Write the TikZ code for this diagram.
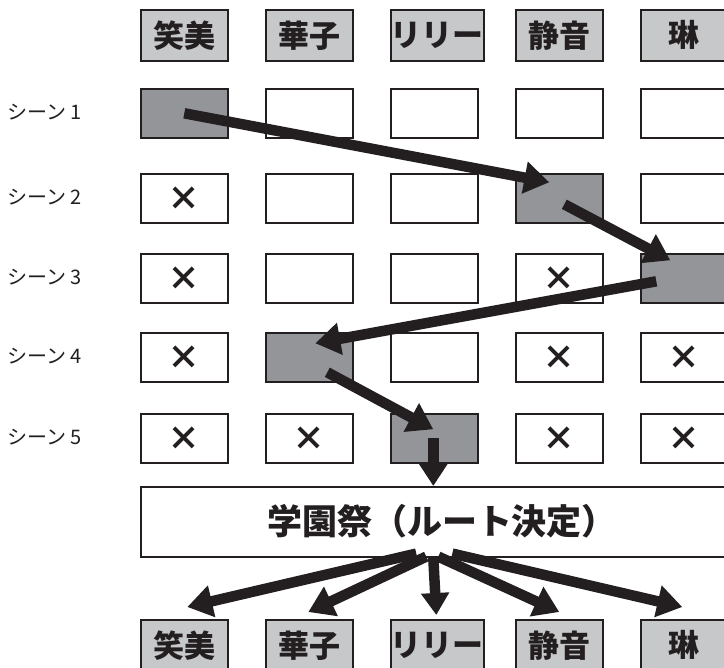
\documentclass[tikz,border=0pt]{standalone}
\usepackage{fontspec}
\newfontfamily\jp{Noto Sans CJK JP}
\usetikzlibrary{arrows.meta,calc}
\definecolor{ink}{HTML}{231F20}
\definecolor{headgray}{HTML}{C7C8CA}
\definecolor{ongray}{HTML}{939598}
\begin{document}
\begin{tikzpicture}[x=1pt,y=-1pt,
  cell/.style={draw=ink,line width=1.6pt,minimum width=87pt,minimum height=49pt,inner sep=0pt,fill=white,anchor=north west,text=ink},
  oncell/.style={cell,fill=ongray},
  xcell/.style={cell,font=\jp\bfseries\fontsize{33}{33}\selectfont},
  head/.style={cell,minimum height=51pt,fill=headgray,font=\jp\bfseries\fontsize{31}{31}\selectfont},
  lbl/.style={font=\jp\fontsize{20}{20}\selectfont,anchor=west,inner sep=0pt,text=ink},
  fat/.style={-{Triangle[length=25pt,width=31pt]},line width=10.5pt,draw=ink}
]
\useasboundingbox (0,0) rectangle (724,668);
% top headers
\node[head] (h1) at (140,9) {笑美};
\node[head] (h2) at (265,9) {華子};
\node[head] (h3) at (390,9) {リリー};
\node[head] (h4) at (515,9) {静音};
\node[head] (h5) at (640,9) {琳};
% labels
\node[lbl] (l1) at (7,112) {シーン 1};
\node[lbl] (l2) at (7,197) {シーン 2};
\node[lbl] (l3) at (7,277) {シーン 3};
\node[lbl] (l4) at (7,356) {シーン 4};
\node[lbl] (l5) at (7,437) {シーン 5};
% row 1
\node[oncell] (r1c1) at (140,88) {};
\node[cell] (r1c2) at (265,88) {};
\node[cell] (r1c3) at (390,88) {};
\node[cell] (r1c4) at (515,88) {};
\node[cell] (r1c5) at (640,88) {};
% row 2
\node[xcell] (r2c1) at (140,173) {×};
\node[cell] (r2c2) at (265,173) {};
\node[cell] (r2c3) at (390,173) {};
\node[oncell] (r2c4) at (515,173) {};
\node[cell] (r2c5) at (640,173) {};
% row 3
\node[xcell] (r3c1) at (140,253) {×};
\node[cell] (r3c2) at (265,253) {};
\node[cell] (r3c3) at (390,253) {};
\node[xcell] (r3c4) at (515,253) {×};
\node[oncell] (r3c5) at (640,253) {};
% row 4
\node[xcell] (r4c1) at (140,332) {×};
\node[oncell] (r4c2) at (265,332) {};
\node[cell] (r4c3) at (390,332) {};
\node[xcell] (r4c4) at (515,332) {×};
\node[xcell] (r4c5) at (640,332) {×};
% row 5
\node[xcell] (r5c1) at (140,413) {×};
\node[xcell] (r5c2) at (265,413) {×};
\node[oncell] (r5c3) at (390,413) {};
\node[xcell] (r5c4) at (515,413) {×};
\node[xcell] (r5c5) at (640,413) {×};
% festival box
\node[cell,minimum width=590pt,minimum height=70pt] (fest) at (140,486) {};
\node[font=\jp\bfseries\fontsize{35}{35}\selectfont,text=ink,inner sep=0pt] (festtext) at (442,521) {学園祭（ルート決定）};
% bottom headers
\node[head] (b1) at (140,619) {笑美};
\node[head] (b2) at (265,619) {華子};
\node[head] (b3) at (390,619) {リリー};
\node[head] (b4) at (515,619) {静音};
\node[head] (b5) at (640,619) {琳};
% path arrows
\draw[fat] (r1c1.center) -- ($(r2c4.center)+(-10,-16)$);
\draw[fat] ($(r2c4.center)+(5,6)$) -- ($(r3c5.center)+(-14,-18)$);
\draw[fat] ($(r3c5.center)+(-28,3)$) -- ($(r4c2.center)+(6,-14)$);
\draw[fat] ($(r4c2.center)+(18,15)$) -- ($(r5c3.center)+(-1,-9)$);
\draw[fat,-{Triangle[length=22pt,width=27pt]}] ($(r5c3.center)+(-1,0)$) -- ($(r5c3.center|-fest.north)+(-1,0)$);
% fan out
\coordinate (hub) at (r5c3.center|-fest.south);
\draw[fat] ($(hub)+(-18,-4)$) -- ($(b1.north)+(3,-12)$);
\draw[fat] ($(hub)+(-8,-1)$) -- ($(b2.north)+(-1,-7)$);
\draw[fat,-{Triangle[length=22pt,width=27pt]}] ($(hub)+(-1,0)$) -- ($(b3.north)+(-1,-4)$);
\draw[fat] ($(hub)+(4,-1)$) -- ($(b4.north)+(0,-7)$);
\draw[fat] ($(hub)+(18,-4)$) -- ($(b5.north)+(-2,-12)$);
\end{tikzpicture}
\end{document}
